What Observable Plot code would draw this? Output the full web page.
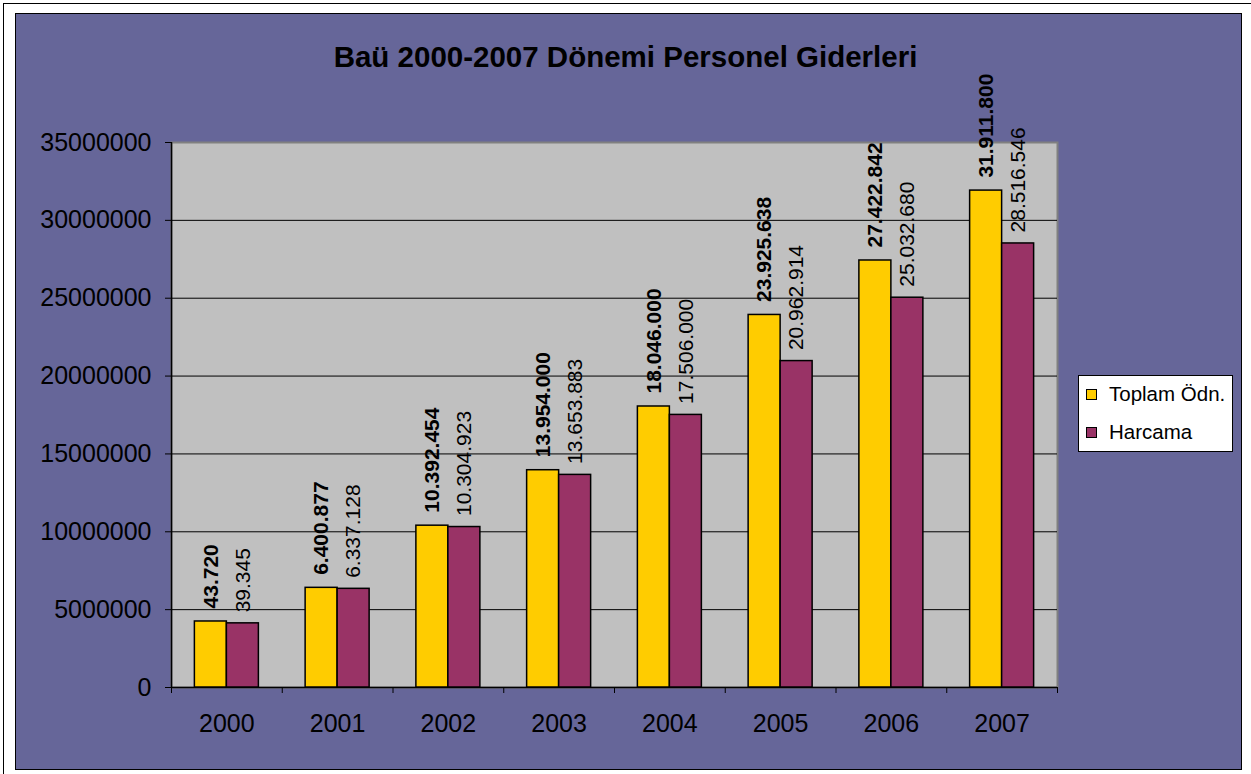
<!DOCTYPE html>
<html>
<head>
<meta charset="utf-8">
<script src="https://cdn.jsdelivr.net/npm/d3@7"></script>
<script src="https://cdn.jsdelivr.net/npm/@observablehq/plot@0.6"></script>
<style>
  html, body { margin: 0; padding: 0; background: #ffffff; }
  #wrap { position: relative; width: 1251px; height: 774px; overflow: hidden; font-family: "Liberation Sans", Arial, sans-serif; }
  #outer { position: absolute; left: 3px; top: 3px; width: 1260px; height: 780px; border-left: 1px solid #000; border-top: 1px solid #000; }
  #panel { position: absolute; left: 15px; top: 13px; width: 1225px; height: 755px; background: #666699; border: 1px solid #000; }
  #chart { position: absolute; left: 0; top: 0; }
  #title { position: absolute; left: 0; width: 1251px; top: 40px; text-align: center; font-weight: bold; font-size: 29.5px; color: #000; }
  #legend { position: absolute; left: 1078px; top: 375px; width: 155px; height: 77px; background: #fff; border: 1px solid #000; box-sizing: border-box; }
  .li { position: absolute; left: 7px; font-size: 20.5px; color: #000; white-space: nowrap; }
  .sw { display: inline-block; width: 9px; height: 9px; border: 1px solid #000; margin-right: 12px; vertical-align: 1px; }
</style>
</head>
<body>
<div id="wrap">
  <div id="outer"></div>
  <div id="panel"></div>
  <div id="chart"></div>
  <div id="title">Baü 2000-2007 Dönemi Personel Giderleri</div>
  <div id="legend"></div>
</div>
<script>
// ---- data ----
const years = ["2000", "2001", "2002", "2003", "2004", "2005", "2006", "2007"];
const seriesNames = ["Toplam Ödn.", "Harcama"];
const seriesColors = ["#FFCC00", "#993366"];
const toplam = [4240000, 6400877, 10392454, 13954000, 18046000, 23925638, 27422842, 31911800];
const harcama = [4120000, 6337128, 10304923, 13653883, 17506000, 20962914, 25032680, 28516546];
const toplamLabels = ["43.720", "6.400.877", "10.392.454", "13.954.000", "18.046.000", "23.925.638", "27.422.842", "31.911.800"];
const harcamaLabels = ["39.345", "6.337.128", "10.304.923", "13.653.883", "17.506.000", "20.962.914", "25.032.680", "28.516.546"];
const yTicks = [0, 5000000, 10000000, 15000000, 20000000, 25000000, 30000000, 35000000];

// ---- layout ----
const W = 1251, H = 774;
const mL = 171, mR = 194, mT = 142, mB = 87;
const bw = (W - mL - mR) / years.length;
const barW = 32;
const inset = (bw - barW) / 2;

const rowsT = years.map((y, i) => ({year: y, value: toplam[i], label: toplamLabels[i]}));
const rowsH = years.map((y, i) => ({year: y, value: harcama[i], label: harcamaLabels[i]}));

const chart = Plot.plot({
  width: W,
  height: H,
  marginLeft: mL,
  marginRight: mR,
  marginTop: mT,
  marginBottom: mB,
  style: {fontFamily: "Liberation Sans, Arial, sans-serif", background: "transparent", color: "#000", overflow: "visible"},
  x: {domain: years, padding: 0, round: false, label: null},
  y: {domain: [0, 35000000], label: null},
  marks: [
    Plot.frame({fill: "#C0C0C0", stroke: "#808080", strokeWidth: 2}),
    Plot.ruleY(yTicks.filter(t => t > 0 && t < 35000000), {stroke: "#000", strokeWidth: 1}),
    Plot.ruleX([years[0]], {dx: -bw / 2, stroke: "#000", strokeWidth: 1.5}),
    Plot.ruleY([0], {stroke: "#000", strokeWidth: 1.5}),
    Plot.ruleX(years, {dx: -bw / 2, y1: 0, y2: 0, insetBottom: -6, stroke: "#000"}),
    Plot.ruleX([years[years.length - 1]], {dx: bw / 2, y1: 0, y2: 0, insetBottom: -6, stroke: "#000"}),
    Plot.axisY({ticks: yTicks, tickFormat: d3.format("d"), tickSize: 6, tickPadding: 14, fontSize: 25, stroke: "#000", label: null}),
    Plot.axisX({tickSize: 0, tickPadding: 27, fontSize: 25, label: null}),
    Plot.barY(rowsT, {x: "year", y: "value", fill: seriesColors[0], stroke: "#000", strokeWidth: 1.5, insetLeft: inset, insetRight: inset, dx: -barW / 2}),
    Plot.barY(rowsH, {x: "year", y: "value", fill: seriesColors[1], stroke: "#000", strokeWidth: 1.5, insetLeft: inset, insetRight: inset, dx: barW / 2}),
    Plot.text(rowsT, {x: "year", y: "value", text: "label", rotate: -90, textAnchor: "start", dx: -barW / 2, dy: -13, fontSize: 21, fontWeight: "bold", fill: "#000"}),
    Plot.text(rowsH, {x: "year", y: "value", text: "label", rotate: -90, textAnchor: "start", dx: barW / 2, dy: -11, fontSize: 21, fill: "#000"})
  ]
});
document.getElementById("chart").appendChild(chart);

// ---- legend ----
const legend = document.getElementById("legend");
seriesNames.forEach((name, i) => {
  const d = document.createElement("div");
  d.className = "li";
  d.style.top = (i === 0 ? 6 : 44) + "px";
  d.innerHTML = `<span class="sw" style="background:${seriesColors[i]}"></span>${name}`;
  legend.appendChild(d);
});
</script>
</body>
</html>
